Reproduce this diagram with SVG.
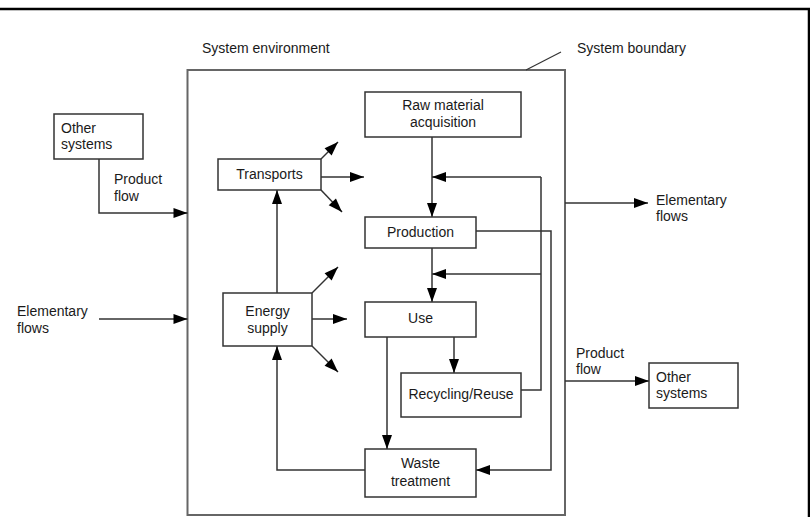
<svg xmlns="http://www.w3.org/2000/svg" width="810" height="517" viewBox="0 0 810 517">
<defs>
<marker id="ah" markerUnits="userSpaceOnUse" markerWidth="14" markerHeight="10" refX="14" refY="5" orient="auto" overflow="visible">
<path d="M0,0 L14,5 L0,10 Z" fill="#000"/>
</marker>
</defs>
<style>
.t{font-family:"Liberation Sans",Arial,sans-serif;font-size:14px;fill:#1a1a1a}
.c{text-anchor:middle}
.box{fill:#fff;stroke:#333;stroke-width:1.5}
.ln{fill:none;stroke:#333;stroke-width:1.5}
.ar{fill:none;stroke:#333;stroke-width:1.5;marker-end:url(#ah)}
</style>
<rect width="810" height="517" fill="#fff"/>
<g id="frame">
<line x1="0" y1="9" x2="810" y2="9" stroke="#000" stroke-width="2.5"/>
<line x1="809" y1="9" x2="809" y2="517" stroke="#000" stroke-width="2.5"/>
</g>
<g id="boundary">
<rect x="187.5" y="70" width="377.5" height="445" fill="none" stroke="#666" stroke-width="2"/>
<line x1="526" y1="70" x2="561" y2="52" stroke="#333" stroke-width="1.2"/>
<text class="t" x="202" y="53">System environment</text>
<text class="t" x="577" y="53">System boundary</text>
</g>
<g id="connectors">
<path class="ar" d="M432,137 V217"/>
<path class="ln" d="M521,390 H541 V177"/>
<path class="ar" d="M541,177 H432"/>
<path class="ar" d="M541,274 H432"/>
<path class="ar" d="M432,248 V302"/>
<path class="ar" d="M476,231 H551 V470 H476"/>
<path class="ar" d="M454,337 V373"/>
<path class="ar" d="M387,337 V449"/>
<path class="ar" d="M365,470 H277 V346"/>
<path class="ar" d="M277,293 V190"/>
<path class="ar" d="M321,177 H364"/>
<path class="ar" d="M321,159 L338,142"/>
<path class="ar" d="M321,190 L342,212"/>
<path class="ar" d="M312,319 H347"/>
<path class="ar" d="M312,293 L338,267"/>
<path class="ar" d="M312,346 L338,372"/>
<path class="ar" d="M99,159 V213 H187.5"/>
<path class="ar" d="M99,319 H187.5"/>
<path class="ar" d="M565,203 H648"/>
<path class="ar" d="M565,381 H649"/>
</g>
<g id="raw">
<rect class="box" x="365" y="92" width="156" height="45"/>
<text class="t c" x="443" y="110">Raw material</text>
<text class="t c" x="443" y="127">acquisition</text>
</g>
<g id="transports">
<rect class="box" x="218" y="159" width="103" height="31"/>
<text class="t c" x="269.5" y="179">Transports</text>
</g>
<g id="production">
<rect class="box" x="365" y="217" width="111" height="31"/>
<text class="t c" x="420.5" y="237">Production</text>
</g>
<g id="use">
<rect class="box" x="365" y="302" width="111" height="35"/>
<text class="t c" x="420.5" y="323">Use</text>
</g>
<g id="energy">
<rect class="box" x="223" y="293" width="89" height="53"/>
<text class="t c" x="267.5" y="316">Energy</text>
<text class="t c" x="267.5" y="333">supply</text>
</g>
<g id="recycling">
<rect class="box" x="401" y="373" width="120" height="44"/>
<text class="t c" x="461" y="399">Recycling/Reuse</text>
</g>
<g id="waste">
<rect class="box" x="365" y="449" width="111" height="48"/>
<text class="t c" x="420.5" y="468">Waste</text>
<text class="t c" x="420.5" y="486">treatment</text>
</g>
<g id="other-left">
<rect class="box" x="54" y="114" width="89" height="45"/>
<text class="t" x="61" y="133">Other</text>
<text class="t" x="61" y="149">systems</text>
</g>
<g id="other-right">
<rect class="box" x="649" y="363" width="89" height="45"/>
<text class="t" x="656" y="382">Other</text>
<text class="t" x="656" y="398">systems</text>
</g>
<g id="labels">
<text class="t" x="114" y="184">Product</text>
<text class="t" x="114" y="201">flow</text>
<text class="t" x="17" y="316">Elementary</text>
<text class="t" x="17" y="333">flows</text>
<text class="t" x="656" y="205">Elementary</text>
<text class="t" x="656" y="221">flows</text>
<text class="t" x="576" y="358">Product</text>
<text class="t" x="576" y="374">flow</text>
</g>
</svg>
